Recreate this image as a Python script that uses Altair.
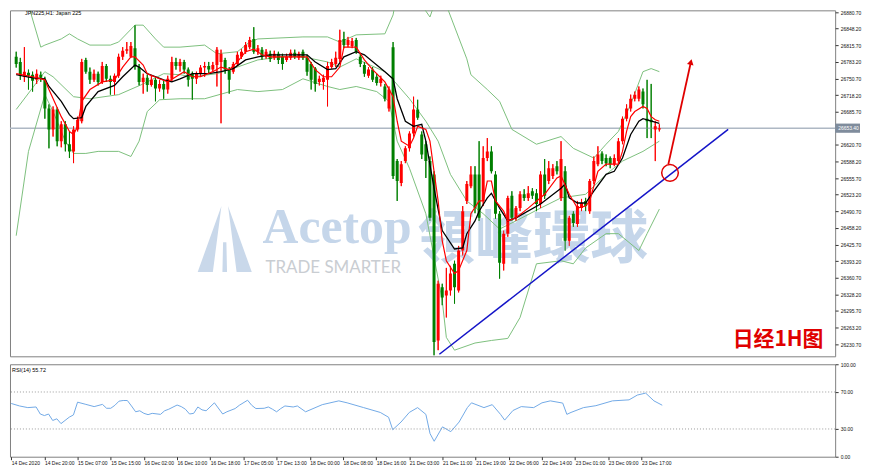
import altair as alt
import pandas as pd

# ---------------- data ----------------
BAR = list(range(158))
OPEN = [26793, 26783, 26754, 26762, 26758, 26748, 26758, 26748, 26692, 26651,
        26690, 26628, 26661, 26622, 26608, 26651, 26667, 26787, 26764, 26748,
        26760, 26744, 26775, 26750, 26744, 26756, 26793, 26805, 26793, 26810,
        26773, 26744, 26752, 26738, 26748, 26731, 26740, 26729, 26750, 26783,
        26775, 26783, 26768, 26760, 26750, 26760, 26772, 26775, 26768, 26777,
        26783, 26787, 26768, 26764, 26779, 26793, 26803, 26812, 26828, 26803,
        26807, 26793, 26799, 26791, 26799, 26793, 26787, 26791, 26801, 26791,
        26803, 26791, 26779, 26770, 26744, 26744, 26748, 26773, 26779, 26789,
        26828, 26816, 26814, 26826, 26793, 26777, 26756, 26768, 26754, 26742,
        26735, 26692, 26812, 26589, 26546, 26589, 26614, 26643, 26690, 26641,
        26622, 26589, 26563, 26238, 26342, 26326, 26336, 26388, 26336, 26414,
        26511, 26540, 26563, 26563, 26511, 26595, 26608, 26563, 26486, 26388,
        26447, 26521, 26478, 26497, 26524, 26517, 26530, 26526, 26505, 26563,
        26550, 26560, 26579, 26517, 26569, 26433, 26486, 26466, 26497, 26511,
        26491, 26550, 26583, 26604, 26595, 26595, 26583, 26589, 26628, 26672,
        26692, 26711, 26711, 26725, 26672, 26670, 26651, 26651]
CLOSE = [26779, 26756, 26764, 26756, 26746, 26760, 26752, 26692, 26651, 26690,
         26628, 26661, 26622, 26608, 26651, 26670, 26783, 26764, 26748, 26760,
         26744, 26775, 26750, 26744, 26756, 26793, 26805, 26808, 26814, 26773,
         26744, 26752, 26738, 26748, 26731, 26740, 26729, 26750, 26783, 26775,
         26783, 26768, 26748, 26750, 26760, 26772, 26775, 26768, 26777, 26807,
         26799, 26768, 26748, 26779, 26797, 26803, 26816, 26826, 26803, 26810,
         26793, 26803, 26789, 26799, 26787, 26779, 26793, 26801, 26793, 26799,
         26791, 26764, 26748, 26740, 26750, 26752, 26775, 26783, 26791, 26826,
         26816, 26826, 26824, 26803, 26779, 26760, 26768, 26748, 26742, 26750,
         26711, 26729, 26560, 26550, 26583, 26614, 26643, 26690, 26674, 26602,
         26589, 26478, 26235, 26349, 26322, 26336, 26369, 26342, 26414, 26491,
         26544, 26563, 26497, 26478, 26595, 26608, 26569, 26486, 26390, 26447,
         26517, 26478, 26497, 26524, 26517, 26526, 26521, 26505, 26563, 26521,
         26575, 26575, 26569, 26593, 26433, 26478, 26468, 26501, 26507, 26501,
         26550, 26589, 26602, 26589, 26585, 26583, 26595, 26628, 26672, 26692,
         26711, 26719, 26729, 26700, 26667, 26665, 26657, 26653.4]
HIGH = [26803, 26791, 26812, 26768, 26764, 26768, 26764, 26754, 26700, 26696,
        26694, 26667, 26667, 26647, 26657, 26676, 26789, 26791, 26772, 26768,
        26764, 26783, 26779, 26756, 26760, 26799, 26812, 26822, 26822, 26855,
        26779, 26760, 26758, 26756, 26752, 26748, 26746, 26756, 26793, 26791,
        26789, 26787, 26772, 26764, 26764, 26777, 26783, 26783, 26783, 26812,
        26807, 26791, 26773, 26783, 26803, 26808, 26822, 26832, 26851, 26816,
        26812, 26808, 26805, 26805, 26803, 26799, 26799, 26807, 26807, 26803,
        26807, 26797, 26783, 26773, 26756, 26758, 26783, 26789, 26803, 26846,
        26842, 26832, 26830, 26830, 26799, 26783, 26773, 26773, 26760, 26756,
        26740, 26735, 26822, 26593, 26589, 26618, 26647, 26715, 26709, 26647,
        26628, 26598, 26569, 26355, 26349, 26380, 26384, 26394, 26423, 26501,
        26550, 26579, 26579, 26628, 26618, 26634, 26618, 26569, 26491, 26453,
        26521, 26530, 26501, 26530, 26534, 26540, 26536, 26534, 26569, 26593,
        26589, 26583, 26589, 26628, 26579, 26482, 26491, 26511, 26515, 26517,
        26554, 26598, 26618, 26608, 26602, 26598, 26602, 26634, 26676, 26700,
        26719, 26725, 26735, 26731, 26748, 26740, 26667, 26661]
LOW = [26772, 26748, 26744, 26729, 26725, 26740, 26744, 26672, 26614, 26637,
       26618, 26616, 26608, 26595, 26585, 26647, 26663, 26760, 26740, 26744,
       26737, 26740, 26744, 26719, 26719, 26752, 26787, 26799, 26791, 26768,
       26737, 26721, 26725, 26735, 26706, 26725, 26711, 26721, 26744, 26768,
       26764, 26760, 26735, 26709, 26740, 26754, 26754, 26760, 26764, 26735,
       26663, 26760, 26721, 26760, 26775, 26789, 26799, 26808, 26799, 26797,
       26787, 26789, 26783, 26787, 26779, 26768, 26783, 26787, 26789, 26787,
       26787, 26756, 26729, 26725, 26737, 26729, 26696, 26770, 26773, 26783,
       26810, 26812, 26810, 26799, 26773, 26754, 26752, 26744, 26737, 26735,
       26706, 26686, 26554, 26511, 26540, 26585, 26608, 26637, 26670, 26593,
       26556, 26472, 26209, 26219, 26307, 26283, 26326, 26310, 26332, 26404,
       26505, 26536, 26487, 26472, 26501, 26589, 26565, 26476, 26359, 26375,
       26441, 26472, 26472, 26491, 26511, 26511, 26515, 26491, 26497, 26515,
       26544, 26554, 26563, 26511, 26414, 26423, 26460, 26460, 26491, 26491,
       26486, 26544, 26579, 26583, 26579, 26575, 26579, 26585, 26622, 26667,
       26686, 26706, 26706, 26692, 26634, 26634, 26589, 26647]

# fast MA (red)
RED_BAR = [0, 4, 7, 8, 11, 13, 14, 15, 16, 18, 21, 24, 26, 28, 29, 31, 32, 35, 37, 39,
           41, 43, 45, 48, 50, 52, 54, 56, 58, 60, 62, 68, 71, 73, 75, 77, 79, 80, 83, 85,
           87, 90, 92, 93, 94, 96, 97, 98, 100, 101, 102, 103, 104, 105, 107, 108, 110, 111, 113, 114,
           115, 116, 117, 119, 120, 122, 125, 129, 132, 133, 135, 137, 139, 140, 142, 144, 147, 148, 149, 150,
           151, 153, 154, 155, 156, 157]
RED_VAL = [26760, 26754, 26748, 26729, 26676, 26647, 26641, 26657, 26706, 26729,
           26744, 26748, 26773, 26793, 26793, 26777, 26760, 26750, 26744, 26754,
           26764, 26754, 26754, 26764, 26773, 26768, 26783, 26803, 26808, 26797,
           26793, 26793, 26793, 26768, 26754, 26754, 26773, 26812, 26812, 26787,
           26768, 26744, 26715, 26667, 26628, 26618, 26634, 26657, 26651, 26628,
           26569, 26511, 26433, 26394, 26369, 26375, 26414, 26486, 26511, 26511,
           26550, 26550, 26511, 26491, 26472, 26478, 26497, 26524, 26556, 26560,
           26524, 26497, 26501, 26511, 26569, 26583, 26583, 26608, 26647, 26676,
           26686, 26696, 26692, 26676, 26670, 26667]
# slow MA (black)
BLK_BAR = [0, 4, 7, 8, 11, 13, 14, 16, 17, 20, 24, 26, 29, 30, 32, 36, 38, 40, 43, 47,
           50, 53, 56, 59, 62, 71, 73, 76, 78, 80, 83, 85, 90, 92, 93, 95, 97, 99, 100, 102,
           104, 107, 109, 110, 112, 113, 115, 116, 118, 120, 122, 128, 133, 134, 135, 137, 139, 141, 144, 146,
           148, 150, 152, 153, 157]
BLK_VAL = [26758, 26752, 26750, 26735, 26706, 26680, 26672, 26674, 26696, 26725,
           26737, 26754, 26777, 26773, 26760, 26748, 26744, 26750, 26760, 26760,
           26764, 26770, 26787, 26793, 26797, 26797, 26783, 26768, 26770, 26793,
           26803, 26797, 26764, 26750, 26711, 26667, 26657, 26661, 26628, 26536,
           26453, 26417, 26419, 26447, 26472, 26491, 26517, 26526, 26497, 26472,
           26478, 26505, 26536, 26544, 26517, 26507, 26507, 26530, 26563, 26569,
           26595, 26641, 26667, 26672, 26663]
# Bollinger bands (green)
UP_BAR = [0, 3, 6, 7, 11, 13, 15, 18, 23, 25, 29, 31, 34, 36, 40, 46, 49, 54, 57, 59,
          70, 76, 79, 83, 90, 92, 93, 95, 97, 99, 101, 102, 103, 104, 105, 110, 111, 115, 118, 121,
          127, 133, 136, 141, 144, 147, 150, 153, 155, 157]
UP_VAL = [26939, 26894, 26812, 26816, 26828, 26838, 26828, 26816, 26816, 26822,
          26855, 26855, 26828, 26812, 26812, 26816, 26799, 26803, 26822, 26828,
          26832, 26832, 26822, 26836, 26838, 26875, 26920, 26978, 26929, 26894,
          26871, 26894, 26959, 26939, 26894, 26789, 26758, 26729, 26706, 26651,
          26622, 26637, 26614, 26595, 26622, 26647, 26700, 26764, 26770, 26764]
MID_BAR = [0, 7, 9, 14, 18, 25, 31, 36, 40, 43, 49, 54, 59, 65, 70, 76, 79, 83, 90, 92,
           96, 100, 103, 106, 110, 114, 118, 122, 128, 133, 139, 144, 148, 153, 157]
MID_VAL = [26690, 26764, 26754, 26715, 26711, 26719, 26740, 26760, 26758, 26754,
           26760, 26773, 26787, 26793, 26793, 26783, 26773, 26789, 26764, 26748,
           26711, 26667, 26628, 26563, 26511, 26486, 26456, 26472, 26497, 26517,
           26524, 26563, 26589, 26608, 26628]
LOW_BAR = [0, 3, 7, 9, 12, 14, 17, 20, 25, 28, 30, 32, 35, 40, 46, 54, 59, 65, 70, 76,
           79, 83, 88, 91, 93, 96, 100, 104, 105, 107, 112, 116, 120, 123, 127, 133, 136, 139, 144, 147,
           152, 154, 157]
LOW_VAL = [26443, 26608, 26719, 26686, 26628, 26604, 26604, 26608, 26608, 26598,
           26628, 26686, 26709, 26711, 26711, 26729, 26725, 26729, 26750, 26735,
           26729, 26735, 26725, 26706, 26628, 26575, 26486, 26316, 26244, 26219,
           26233, 26238, 26242, 26283, 26388, 26394, 26388, 26419, 26447, 26447,
           26414, 26447, 26495]
# RSI(14)
RSI_BAR = [0, 2, 4, 6, 7, 8, 9, 10, 11, 12, 14, 15, 16, 18, 20, 22, 23, 24, 25, 26,
           27, 28, 29, 30, 31, 32, 33, 34, 36, 37, 38, 40, 41, 42, 43, 44, 45, 46, 47, 49,
           51, 52, 54, 55, 57, 58, 59, 61, 62, 63, 64, 65, 66, 68, 69, 71, 75, 79, 81, 85,
           89, 91, 92, 94, 96, 98, 100, 101, 102, 104, 106, 108, 110, 111, 114, 116, 118, 119, 121, 123,
           126, 128, 130, 133, 134, 135, 138, 141, 145, 149, 151, 153, 155, 157]
RSI_VAL = [57.6, 54.9, 53.1, 53.8, 46.2, 44.5, 46.2, 39.2, 41.0, 35.8,
           42.8, 45.2, 59.0, 56.6, 54.2, 56.6, 52.4, 52.4, 55.6, 60.1,
           60.8, 60.8, 54.9, 48.6, 49.7, 46.9, 45.5, 46.9, 45.8, 49.7,
           51.4, 55.9, 54.2, 51.4, 46.2, 46.9, 53.8, 50.7, 49.7, 58.3,
           46.2, 48.6, 52.1, 55.6, 61.1, 55.6, 52.1, 52.4, 53.8, 51.4,
           48.6, 52.1, 54.9, 53.8, 54.9, 48.6, 56.3, 60.4, 58.3, 53.1,
           47.9, 42.7, 29.2, 37.5, 47.9, 53.1, 45.8, 25.0, 16.7, 32.3,
           27.1, 37.5, 53.1, 58.3, 53.1, 56.3, 45.8, 39.6, 50.0, 54.2,
           53.1, 58.3, 60.4, 58.0, 45.8, 47.9, 53.1, 55.2, 60.4, 61.5,
           66.7, 68.8, 60.4, 55.7]
RSI_LEVELS = [30, 70]
RSI_TICKS = [0, 30, 70, 100]

PRICE_TICKS = [26230.7, 26263.2, 26295.7, 26328.2, 26360.7, 26393.2, 26425.7,
               26458.2, 26490.7, 26523.2, 26555.7, 26588.2, 26620.7, 26685.7,
               26718.2, 26750.7, 26783.2, 26815.7, 26848.2, 26880.7]
LAST_PRICE = [26653.4]
X_TICK_BARS = [0, 8, 16, 24, 32, 40, 48, 56, 64, 72, 80, 88, 96, 104, 112, 120, 128, 136, 144, 152]
X_LABELS = ["14 Dec 2020", "14 Dec 20:00", "15 Dec 07:00", "15 Dec 15:00", "16 Dec 02:00",
            "16 Dec 10:00", "16 Dec 18:00", "17 Dec 05:00", "17 Dec 13:00", "18 Dec 00:00",
            "18 Dec 08:00", "18 Dec 16:00", "21 Dec 03:00", "21 Dec 11:00", "21 Dec 19:00",
            "22 Dec 06:00", "22 Dec 14:00", "23 Dec 01:00", "23 Dec 09:00", "23 Dec 17:00"]

# hand-drawn annotations (bar index, price)
TREND_BAR = [103.3, 173.8]
TREND_PRICE = [26211, 26651]
ARROW_BAR = [159.2, 164.7]
ARROW_PRICE = [26583, 26783]
CIRCLE_BAR = [159.6]
CIRCLE_PRICE = [26566]

# ---------------- chart ----------------
W = 830
H_MAIN = 348
H_RSI = 93
xscale = alt.Scale(domain=[-0.3, 198.7], nice=False, zero=False)
yscale = alt.Scale(domain=[26207, 26884], nice=False, zero=False)
X = alt.X("bar:Q", scale=xscale, axis=None)
Y_AXIS = alt.Axis(orient="right", values=PRICE_TICKS, format=".2f", title=None, labelOverlap=False,
                  labelFontSize=5, tickSize=3, labelPadding=2, domain=False, grid=False)


def Y(field):
    return alt.Y(field, scale=yscale, axis=Y_AXIS, title=None)


candles = pd.DataFrame({"bar": BAR, "open": OPEN, "high": HIGH, "low": LOW, "close": CLOSE})
candles["dir"] = ["up" if c >= o else "down" for o, c in zip(OPEN, CLOSE)]
col = alt.Color("dir:N", scale=alt.Scale(domain=["up", "down"], range=["#ff0000", "#007f00"]), legend=None)


def line(bars, vals, color, width):
    d = pd.DataFrame({"bar": bars, "v": vals})
    return alt.Chart(d).mark_line(color=color, strokeWidth=width, clip=True).encode(x=X, y=Y("v:Q"))


def wm(text, x, y, size, color, font, weight="normal", align="left"):
    return alt.Chart(pd.DataFrame({"t": [text]})).mark_text(
        fontSize=size, font=font, fontWeight=weight, color=color, align=align, baseline="middle"
    ).encode(x=alt.value(x), y=alt.value(y), text="t:N")


logo = alt.Chart(pd.DataFrame({"k": [1]})).mark_point(
    shape="M-0.1,-1 L-0.82,1 L-0.36,1 Z M0.1,-1 L0.36,1 L0.82,1 Z M-0.05,0.1 L0.05,0.1 L0.07,1 L-0.07,1 Z",
    filled=True, size=4400, color="#c9d8ea", opacity=1
).encode(x=alt.value(216), y=alt.value(230))

watermark = [
    logo,
    wm("Acetop", 254, 219, 50, "#c5d6ea", "Liberation Serif", "bold"),
    wm("領峰環球", 410, 232, 58, "#c5d6ea", "Noto Sans CJK TC", "bold"),
    wm("TRADE SMARTER", 257, 259, 17, "#c9cdd2", "Lato"),
]

lastdf = pd.DataFrame({"p": LAST_PRICE})
price_line = alt.Chart(lastdf).mark_rule(color="#aeb8c4", strokeWidth=1.6).encode(y=Y("p:Q"))
price_box = alt.Chart(lastdf).transform_calculate(hi="datum.p + 9", lo="datum.p - 9").mark_rect(
    color="#7f8c9c").encode(x=alt.value(830), x2=alt.value(855), y=Y("hi:Q"), y2="lo:Q")
price_txt = alt.Chart(lastdf).mark_text(color="white", fontSize=5, align="left", baseline="middle",
                                        font="Liberation Sans").encode(
    x=alt.value(833), y=Y("p:Q"), text=alt.Text("p:Q", format=".2f"))

wicks = alt.Chart(candles).mark_rule(strokeWidth=1, clip=True).encode(
    x=X, y=Y("low:Q"), y2="high:Q", color=col)
bodies = alt.Chart(candles).mark_bar(size=3, clip=True).encode(
    x=X, y=Y("open:Q"), y2="close:Q", color=col)

trend = alt.Chart(pd.DataFrame({"bar": TREND_BAR, "v": TREND_PRICE})).mark_line(
    color="#1414c8", strokeWidth=1.5).encode(x=X, y=Y("v:Q"))
arrow = alt.Chart(pd.DataFrame({"bar": ARROW_BAR, "v": ARROW_PRICE})).mark_line(
    color="#e00000", strokeWidth=1.8).encode(x=X, y=Y("v:Q"))
arrow_head = alt.Chart(pd.DataFrame({"bar": ARROW_BAR[1:], "v": ARROW_PRICE[1:]})).mark_point(
    shape="triangle-up", filled=True, size=45, angle=13, color="#e00000", opacity=1).encode(
    x=X, y=Y("v:Q"))
circle = alt.Chart(pd.DataFrame({"bar": CIRCLE_BAR, "v": CIRCLE_PRICE})).mark_point(
    shape="circle", filled=False, size=280, strokeWidth=1.5, color="#e00000", opacity=1).encode(
    x=X, y=Y("v:Q"))

title_txt = wm("JPN225,H1:  Japan 225", 15, 3, 5.5, "#000000", "Liberation Sans")
label_cn = wm("日经1H图", 727, 332, 21, "#e00000", "Noto Sans CJK SC", "bold")

main = alt.layer(
    wicks,
    *watermark,
    price_line,
    line(UP_BAR, UP_VAL, "#7dbf7d", 1),
    line(MID_BAR, MID_VAL, "#7dbf7d", 1),
    line(LOW_BAR, LOW_VAL, "#7dbf7d", 1),
    wicks, bodies,
    line(BLK_BAR, BLK_VAL, "#000000", 1.3),
    line(RED_BAR, RED_VAL, "#ff0000", 1.2),
    trend, circle, arrow, arrow_head,
    price_box, price_txt,
    title_txt, label_cn,
).properties(width=W, height=H_MAIN)

label_expr = "[" + ",".join("'%s'" % s for s in X_LABELS) + "][round(datum.value / 8)]"
RSI_SCALE = alt.Scale(domain=[0, 100], nice=False)
RSI_AXIS = alt.Axis(orient="right", values=RSI_TICKS, format=".2f", title=None, labelFontSize=5,
                    tickSize=3, labelPadding=2, domain=False, grid=False, labelOverlap=False)
rsi_df = pd.DataFrame({"bar": RSI_BAR, "rsi": RSI_VAL})
rsi_line = alt.Chart(rsi_df).mark_line(color="#72a9e6", strokeWidth=1).encode(
    x=alt.X("bar:Q", scale=xscale,
            axis=alt.Axis(values=X_TICK_BARS, labelExpr=label_expr, title=None, labelAlign="left",
                          labelBaseline="top", labelPadding=1, labelFontSize=5, tickSize=3,
                          labelOverlap=False, labelFlush=False, labelBound=False, domain=False, grid=False)),
    y=alt.Y("rsi:Q", scale=RSI_SCALE, axis=RSI_AXIS, title=None))
levels = alt.Chart(pd.DataFrame({"lvl": RSI_LEVELS})).mark_rule(
    color="#9a9a9a", strokeDash=[1, 2], strokeWidth=1).encode(
    y=alt.Y("lvl:Q", scale=RSI_SCALE, axis=RSI_AXIS, title=None))
rsi_txt = wm("RSI(14) 55.72", 2, 6, 5.5, "#000000", "Liberation Sans")
rsi = alt.layer(rsi_line, levels, rsi_txt).properties(width=W, height=H_RSI)

chart = alt.vconcat(main, rsi, spacing=3).properties(padding=0).configure_view(
    stroke="#808080", strokeWidth=1
).configure_axis(labelFont="Liberation Sans", labelColor="#111111", tickColor="#333333")

chart.save("out.html", embed_options={"renderer": "svg", "actions": False})
